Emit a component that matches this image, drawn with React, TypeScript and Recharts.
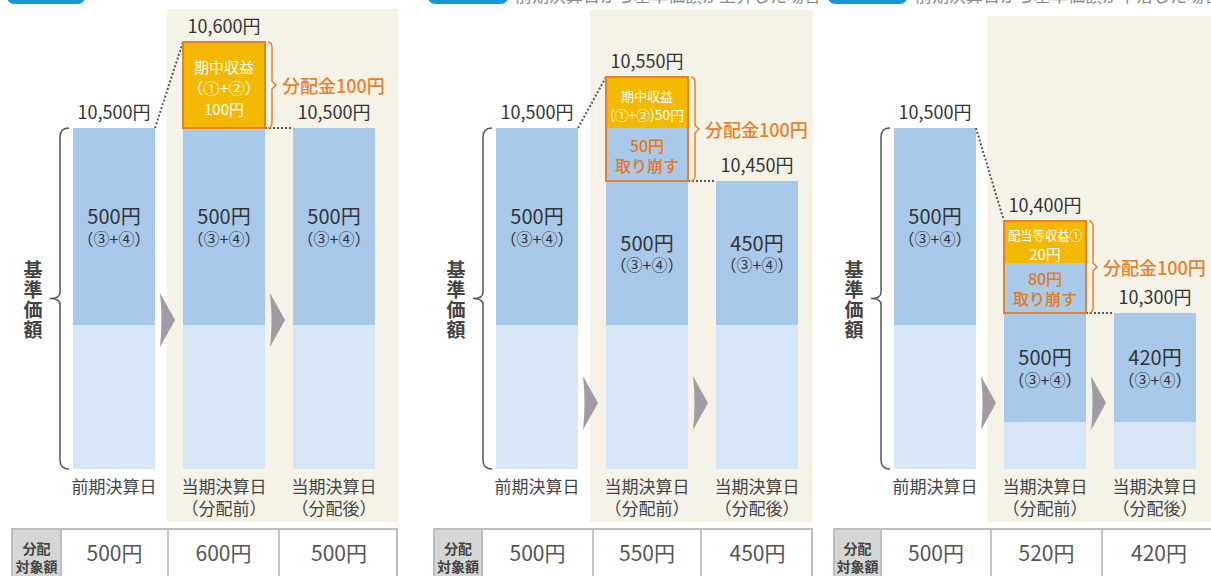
import React from 'react';
import { BarChart, Bar, XAxis, YAxis } from 'recharts';

const FONT = '"Noto Sans CJK JP", "Noto Sans", sans-serif';
const LIGHT = '#d7e6f6';
const MID = '#a9c9ea';
const YELLOW = '#f3b800';
const ORANGE = '#e5812a';
const BEIGE = '#f5f2e7';
const ARROW = '#a39ba3';
const INK = '#333333';

// categories / tick labels
const categories = ['前期決算日', '当期決算日（分配前）', '当期決算日（分配後）'];
const catLine1 = ['前期決算日', '当期決算日', '当期決算日'];
const catLine2 = ['', '（分配前）', '（分配後）'];

// Panel A (schematic segment heights)
const aLight = [144, 144, 144];
const aMid = [197, 197, 197];
const aWithdraw = [0, 0, 0];
const aIncome = [0, 86, 0];
const aNav = ['10,500円', '10,600円', '10,500円'];
const aMidLabel = ['500円', '500円', '500円'];
const aTable = ['500円', '600円', '500円'];
const aIncomeText = ['期中収益', '（①+②）', '100円'];
const aWithdrawText: string[] = [];

// Panel B
const bLight = [144, 144, 144];
const bMid = [197, 144, 144];
const bWithdraw = [0, 53, 0];
const bIncome = [0, 51, 0];
const bNav = ['10,500円', '10,550円', '10,450円'];
const bMidLabel = ['500円', '500円', '450円'];
const bTable = ['500円', '550円', '450円'];
const bIncomeText = ['期中収益', '(①+②)50円'];
const bWithdrawText = ['50円', '取り崩す'];

// Panel C
const cLight = [144, 47, 47];
const cMid = [197, 109, 109];
const cWithdraw = [0, 50, 0];
const cIncome = [0, 42, 0];
const cNav = ['10,500円', '10,400円', '10,300円'];
const cMidLabel = ['500円', '500円', '420円'];
const cTable = ['500円', '520円', '420円'];
const cIncomeText = ['配当等収益①', '20円'];
const cWithdrawText = ['80円', '取り崩す'];

const distLabel = '分配金100円';
const midSub = '（③+④）';
const axisTitle = '基準価額';
const tableHeader = ['分配', '対象額'];

type Row = { cat: string; light: number; mid: number; wd: number; inc: number };

type Panel = {
  left: number;
  margin: { top: number; right: number; left: number; bottom: number };
  rows: Row[];
  nav: string[];
  midLabel: string[];
  table: string[];
  incText: string[];
  wdText: string[];
  arrowLevel: number;
  bg: { left: number; top: number; width: number; height: number };
  tab: { left: number; width: number };
  caption?: { left: number; text: string };
  tb: { left: number; right: number; header: number; d1: number; d2: number };
};

const mkRows = (l: number[], m: number[], w: number[], n: number[]): Row[] =>
  categories.map((c, i) => ({ cat: c, light: l[i], mid: m[i], wd: w[i], inc: n[i] }));

const panels: Panel[] = [
  {
    left: 0,
    margin: { top: 0, right: 21, left: 59, bottom: 47 },
    rows: mkRows(aLight, aMid, aWithdraw, aIncome),
    nav: aNav, midLabel: aMidLabel, table: aTable, incText: aIncomeText, wdText: aWithdrawText,
    arrowLevel: 149,
    bg: { left: 167, top: 9, width: 231, height: 513 },
    tab: { left: 7, width: 78 },
    tb: { left: 11, right: 398, header: 62, d1: 167, d2: 278 },
  },
  {
    left: 410,
    margin: { top: 0, right: 8, left: 72, bottom: 47 },
    rows: mkRows(bLight, bMid, bWithdraw, bIncome),
    nav: bNav, midLabel: bMidLabel, table: bTable, incText: bIncomeText, wdText: bWithdrawText,
    arrowLevel: 66,
    bg: { left: 590, top: 10, width: 223, height: 512 },
    tab: { left: 428, width: 80 },
    caption: { left: 515, text: '前期決算日から基準価額が上昇した場合' },
    tb: { left: 433, right: 813, header: 483, d1: 592, d2: 700 },
  },
  {
    left: 820,
    margin: { top: 0, right: 20, left: 60, bottom: 47 },
    rows: mkRows(cLight, cMid, cWithdraw, cIncome),
    nav: cNav, midLabel: cMidLabel, table: cTable, incText: cIncomeText, wdText: cWithdrawText,
    arrowLevel: 66,
    bg: { left: 987, top: 16, width: 230, height: 506 },
    tab: { left: 828, width: 79 },
    caption: { left: 915, text: '前期決算日から基準価額が下落した場合' },
    tb: { left: 833, right: 1215, header: 882, d1: 990, d2: 1101 },
  },
];

const BAND = 110;
const total = (r: Row) => r.light + r.mid + r.wd + r.inc;

const T = (p: any) => (
  <text fontFamily={FONT} dominantBaseline="central" textAnchor="middle" {...p} />
);

const renderTick = (props: any) => {
  const { x, y, payload } = props;
  const i = categories.indexOf(payload.value);
  return (
    <g>
      <T x={x} y={y + 16} fontSize={17} fill="#444">{catLine1[i]}</T>
      {catLine2[i] ? <T x={x} y={y + 38} fontSize={17} fill="#444">{catLine2[i]}</T> : null}
    </g>
  );
};

const makeLightShape = (p: Panel) => (props: any) => {
  const { x, y, width, height, index } = props;
  const row = p.rows[index];
  const k = row.light ? height / row.light : 1;
  const bottom = y + height;
  const ay = bottom - p.arrowLevel * k;
  return (
    <g>
      <rect x={x} y={y} width={width} height={height} fill={LIGHT} />
      {index < p.rows.length - 1 ? (
        <path
          d={`M${x + width + 5},${ay - 27} L${x + width + 20},${ay} L${x + width + 5},${ay + 27} Q${x + width + 8},${ay} ${x + width + 5},${ay - 27} Z`}
          fill={ARROW}
        />
      ) : null}
    </g>
  );
};

const makeMidShape = (p: Panel) => (props: any) => {
  const { x, y, width, height, index } = props;
  const row = p.rows[index];
  const k = height / row.mid;
  const bottom = y + height + row.light * k;
  const topY = y - (row.wd + row.inc) * k;
  const cx = x + width / 2;
  const cy = y + height / 2;
  const els: React.ReactNode[] = [];
  els.push(<rect key="r" x={x} y={y} width={width} height={height} fill={MID} />);
  els.push(<T key="m1" x={cx} y={cy - 11} fontSize={20} fill={INK}>{p.midLabel[index]}</T>);
  els.push(<T key="m2" x={cx} y={cy + 11} fontSize={16} fill={INK}>{midSub}</T>);
  els.push(<T key="nav" x={cx} y={topY - 17} fontSize={18} fill={INK}>{p.nav[index]}</T>);
  if (index < p.rows.length - 1) {
    const next = p.rows[index + 1];
    const ny = bottom - total(next) * k;
    els.push(
      <line key="c" x1={x + width} y1={y} x2={x + BAND} y2={ny} stroke="#555" strokeWidth={2} strokeDasharray="2 2" />
    );
  }
  if (index === 0) {
    const vx = x - 13;
    const mid = (topY + bottom) / 2;
    els.push(
      <path
        key="br"
        d={`M${x - 4},${topY} Q${vx},${topY} ${vx},${topY + 9} L${vx},${mid - 6} Q${vx},${mid} ${vx - 10},${mid} Q${vx},${mid} ${vx},${mid + 6} L${vx},${bottom - 9} Q${vx},${bottom} ${x - 4},${bottom}`}
        fill="none"
        stroke="#555"
        strokeWidth={1.5}
      />
    );
    els.push(
      <text
        key="ttl"
        x={x - 40}
        y={mid + 2}
        fontFamily={FONT}
        fontSize={19}
        fontWeight={700}
        fill="#444"
        textAnchor="middle"
        style={{ writingMode: 'vertical-rl', letterSpacing: 1 }}
      >
        {axisTitle}
      </text>
    );
  }
  return <g>{els}</g>;
};

const makeWdShape = (p: Panel) => (props: any) => {
  const { x, y, width, height, index } = props;
  const row = p.rows[index];
  if (!row.wd || !height) return <g />;
  const cx = x + width / 2;
  const cy = y + height / 2;
  return (
    <g>
      <rect x={x} y={y} width={width} height={height} fill={MID} />
      {p.wdText.map((s, j) => (
        <T key={j} x={cx} y={cy + (j - (p.wdText.length - 1) / 2) * 20} fontSize={16} fill="#e07b1a" fontWeight={500}>{s}</T>
      ))}
    </g>
  );
};

const makeIncShape = (p: Panel) => (props: any) => {
  const { x, y, width, height, index } = props;
  const row = p.rows[index];
  if (!row.inc || !height) return <g />;
  const k = height / row.inc;
  const boxBottom = y + height + row.wd * k;
  const cx = x + width / 2;
  const cy = y + height / 2;
  const small = height < 60;
  const gap = small ? 19 : 21;
  const n = p.incText.length;
  const bx = x + width + 3;
  const mid = (y + boxBottom) / 2;
  return (
    <g>
      <rect x={x} y={y} width={width} height={height} fill={YELLOW} />
      {p.incText.map((s, j) => {
        const fs = small && (j === 0 || s.length >= 6) ? 13 : 15;
        const est = s.length * fs;
        const extra = est > width - 8 ? { textLength: width - 8, lengthAdjust: 'spacingAndGlyphs' } : {};
        return (
          <T key={j} x={cx} y={cy + 2 + (j - (n - 1) / 2) * gap} fontSize={fs} fill="#fff" {...extra}>{s}</T>
        );
      })}
      <rect x={x} y={y} width={width} height={boxBottom - y} fill="none" stroke={ORANGE} strokeWidth={2} />
      <path
        d={`M${bx},${y} Q${bx + 4},${y} ${bx + 4},${y + 6} L${bx + 4},${mid - 4} L${bx + 8},${mid} L${bx + 4},${mid + 4} L${bx + 4},${boxBottom - 6} Q${bx + 4},${boxBottom} ${bx},${boxBottom}`}
        fill="none"
        stroke={ORANGE}
        strokeWidth={1.5}
      />
      <T x={x + width + 17} y={mid} textAnchor="start" fontSize={18} fill={ORANGE} fontWeight={500}>{distLabel}</T>
    </g>
  );
};

const PanelChart = ({ p }: { p: Panel }) => (
  <div style={{ position: 'absolute', left: p.left, top: 0 }}>
    <BarChart width={410} height={576} data={p.rows} margin={p.margin} barSize={82}>
      <XAxis dataKey="cat" type="category" interval={0} tick={renderTick} tickLine={false} axisLine={false} tickSize={0} tickMargin={0} height={60} />
      <YAxis type="number" domain={[0, 469]} hide />
      <Bar dataKey="light" stackId="s" isAnimationActive={false} shape={makeLightShape(p)} />
      <Bar dataKey="mid" stackId="s" isAnimationActive={false} shape={makeMidShape(p)} />
      <Bar dataKey="wd" stackId="s" isAnimationActive={false} shape={makeWdShape(p)} />
      <Bar dataKey="inc" stackId="s" isAnimationActive={false} shape={makeIncShape(p)} />
    </BarChart>
  </div>
);

const TableRow = ({ p }: { p: Panel }) => {
  const { tb } = p;
  const cells = [
    [tb.header, tb.d1],
    [tb.d1, tb.d2],
    [tb.d2, tb.right],
  ];
  return (
    <div
      style={{
        position: 'absolute', left: tb.left, top: 528, width: tb.right - tb.left, height: 60,
        border: '2px solid #bdbdbd', boxSizing: 'border-box', background: '#fff', fontFamily: FONT,
      }}
    >
      <div
        style={{
          position: 'absolute', left: 0, top: 0, width: tb.header - tb.left - 2, height: '100%',
          background: '#d6d6d6', borderRight: '2px solid #bdbdbd', boxSizing: 'border-box',
          textAlign: 'center', paddingTop: 9, fontSize: 14, lineHeight: '18px', fontWeight: 700, color: '#444',
        }}
      >
        {tableHeader.map((h) => (
          <div key={h}>{h}</div>
        ))}
      </div>
      {cells.map(([a, b], i) => (
        <div
          key={i}
          style={{
            position: 'absolute', left: a - tb.left - 2, top: 0, width: b - a, height: '100%',
            borderLeft: i > 0 ? '2px solid #c4c4c4' : 'none', boxSizing: 'border-box',
            textAlign: 'center', paddingTop: 10, fontSize: 21, lineHeight: '24px', color: '#555',
          }}
        >
          {p.table[i]}
        </div>
      ))}
    </div>
  );
};

export default function App() {
  return (
    <div style={{ position: 'absolute', left: 0, top: 0, width: 1211, height: 576, overflow: 'hidden', background: '#fff', fontFamily: FONT }}>
      {panels.map((p, i) => (
        <React.Fragment key={i}>
          <div style={{ position: 'absolute', ...p.bg, background: BEIGE }} />
          <div style={{ position: 'absolute', left: p.tab.left, top: -12, width: p.tab.width, height: 16, borderRadius: 7, background: '#1b96d4' }} />
          {p.caption ? (
            <div style={{ position: 'absolute', left: p.caption.left, top: -14, fontSize: 17, lineHeight: '17px', color: '#8a8a8a', whiteSpace: 'nowrap' }}>
              {p.caption.text}
            </div>
          ) : null}
        </React.Fragment>
      ))}
      {panels.map((p, i) => (
        <PanelChart key={'c' + i} p={p} />
      ))}
      {panels.map((p, i) => (
        <TableRow key={'t' + i} p={p} />
      ))}
    </div>
  );
}
